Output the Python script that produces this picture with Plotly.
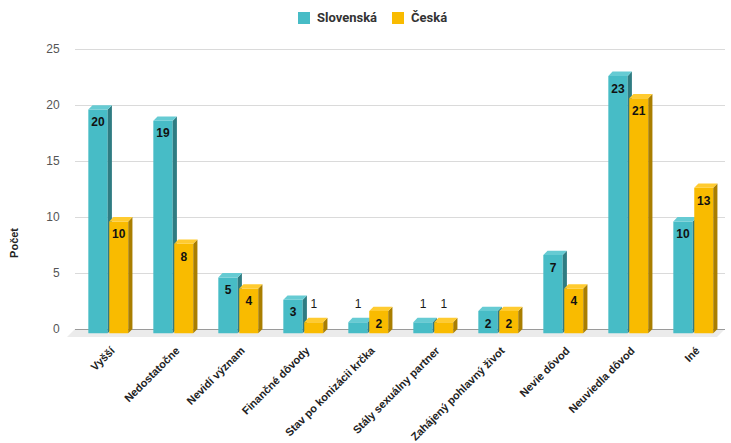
import plotly.graph_objects as go

# ---- data ----
categories = ["Vyšší", "Nedostatočne", "Nevidí význam", "Finančné dôvody",
              "Stav po konizácii krčka", "Stály sexuálny partner",
              "Zahájený pohlavný život", "Nevie dôvod", "Neuviedla dôvod", "Iné"]
slovenska = [20, 19, 5, 3, 1, 1, 2, 7, 23, 10]
ceska = [10, 8, 4, 1, 2, 1, 2, 4, 21, 13]
series_names = ["Slovenská", "Česká"]
y_ticks = [0, 5, 10, 15, 20, 25]

# ---- style / geometry ----
TEAL = dict(front="#47bcc6", side="#2f7c82", top="#66cbd3")
GOLD = dict(front="#f9bb00", side="#a97e00", top="#ffcb30")
PX_X = 65.0     # px per category
PX_Y = 11.2     # px per unit
DX = 4.2 / PX_X
DY = 4.3 / PX_Y
YMIN, YMAX = -0.8, 25.2
XMIN, XMAX = -0.5, len(categories) - 0.5
PLOT_L, PLOT_W, PLOT_T, PLOT_H = 75, 650, 47, 291


def faces(vals, left, width):
    fx, fy, sx, sy, tx, ty = [], [], [], [], [], []
    for i, v in enumerate(vals):
        L = i + left
        R = L + width
        yb = -DY
        yt = v - DY
        fx += [L, R, R, L, L, None]
        fy += [yb, yb, yt, yt, yb, None]
        sx += [R, R + DX, R + DX, R, R, None]
        sy += [yb, yb + DY, yt + DY, yt, yb, None]
        tx += [L, L + DX, R + DX, R, L, None]
        ty += [yt, yt + DY, yt + DY, yt, yt, None]
    return (fx, fy), (sx, sy), (tx, ty)


fig = go.Figure()

specs = [(slovenska, -0.295, 0.298, TEAL), (ceska, 0.027, 0.292, GOLD)]
for (vals, left, width, col), name in zip(specs, series_names):
    (fx, fy), (sx, sy), (tx, ty) = faces(vals, left, width)
    for (xx, yy), c in [((fx, fy), col["front"]), ((sx, sy), col["side"]), ((tx, ty), col["top"])]:
        fig.add_trace(go.Scatter(x=xx, y=yy, mode="lines", fill="toself", fillcolor=c,
                                 line=dict(width=0, color=c), showlegend=False,
                                 name=name, hoverinfo="skip"))

# data labels
for vals, left, width, col in specs:
    ix, iy, it, ox, oy, ot = [], [], [], [], [], []
    for i, v in enumerate(vals):
        cx = i + left + width / 2
        if v >= 2:
            ix.append(cx); iy.append(v - DY - 13.7 / PX_Y); it.append(str(v))
        else:
            ox.append(cx); oy.append(v - DY + 17 / PX_Y); ot.append(str(v))
    fig.add_trace(go.Scatter(x=ix, y=iy, text=it, mode="text", textposition="middle center",
                             textfont=dict(family="Liberation Sans", size=12, color="#111111",
                                           weight="bold"),
                             showlegend=False, hoverinfo="skip", cliponaxis=False))
    fig.add_trace(go.Scatter(x=ox, y=oy, text=ot, mode="text", textposition="middle center",
                             textfont=dict(family="Liberation Sans", size=12, color="#1a1a1a"),
                             showlegend=False, hoverinfo="skip", cliponaxis=False))


def xp(x):
    return (x - XMIN) / (XMAX - XMIN)


def yp(y):
    return (y - YMIN) / (YMAX - YMIN)


def pxp(px):
    return (px - PLOT_L) / PLOT_W


def pyp(py):
    return (PLOT_T + PLOT_H - py) / PLOT_H


floor_dx = 8 / PX_X
floor_dy = 0.71
path = (f"M {xp(XMIN)} {yp(0)} L {xp(XMAX)} {yp(0)} "
        f"L {xp(XMAX - floor_dx)} {yp(-floor_dy)} L {xp(XMIN - floor_dx)} {yp(-floor_dy)} Z")
fig.add_shape(type="path", path=path, xref="paper", yref="paper",
              fillcolor="#ebebeb", line=dict(width=0), layer="below")

# custom legend
legend_items = [(series_names[0], TEAL["front"], 298), (series_names[1], GOLD["front"], 392)]
for name, color, px0 in legend_items:
    fig.add_shape(type="rect", xref="paper", yref="paper",
                  x0=pxp(px0), x1=pxp(px0 + 12), y0=pyp(24), y1=pyp(12),
                  fillcolor=color, line=dict(width=0))
    fig.add_annotation(text=f"<b>{name}</b>", xref="paper", yref="paper",
                       x=pxp(px0 + 17), xanchor="left", y=pyp(18), yanchor="middle",
                       showarrow=False,
                       font=dict(family="Roboto", size=13, color="#333333"))

fig.add_annotation(text="<b>Počet</b>", x=pxp(14.5), xref="paper", xanchor="center",
                   y=7.65, yref="y", yanchor="middle",
                   textangle=-90, showarrow=False,
                   font=dict(family="Liberation Sans", size=11, color="#222222"))

fig.update_layout(
    width=731, height=443,
    margin=dict(l=PLOT_L, r=731 - PLOT_L - PLOT_W, t=PLOT_T, b=443 - PLOT_T - PLOT_H,
                autoexpand=False),
    plot_bgcolor="white", paper_bgcolor="white",
    showlegend=False,
    xaxis=dict(range=[XMIN, XMAX], tickmode="array", tickvals=list(range(len(categories))),
               ticktext=categories, tickangle=-45, showgrid=False, zeroline=False,
               showline=False, ticks="", automargin=False,
               ticklabelshift=4, ticklabelstandoff=3,
               tickfont=dict(family="Liberation Sans", size=11, color="#222222", weight="bold")),
    yaxis=dict(range=[YMIN, YMAX], tickmode="array", tickvals=y_ticks, automargin=False,
               gridcolor="#dadada", gridwidth=1, zeroline=True, zerolinecolor="#9a9a9a",
               zerolinewidth=1, showline=False, ticks="outside", ticklen=12,
               tickcolor="rgba(0,0,0,0)",
               tickfont=dict(family="Liberation Sans", size=12, color="#555555")),
)

fig.write_html("out.html")
